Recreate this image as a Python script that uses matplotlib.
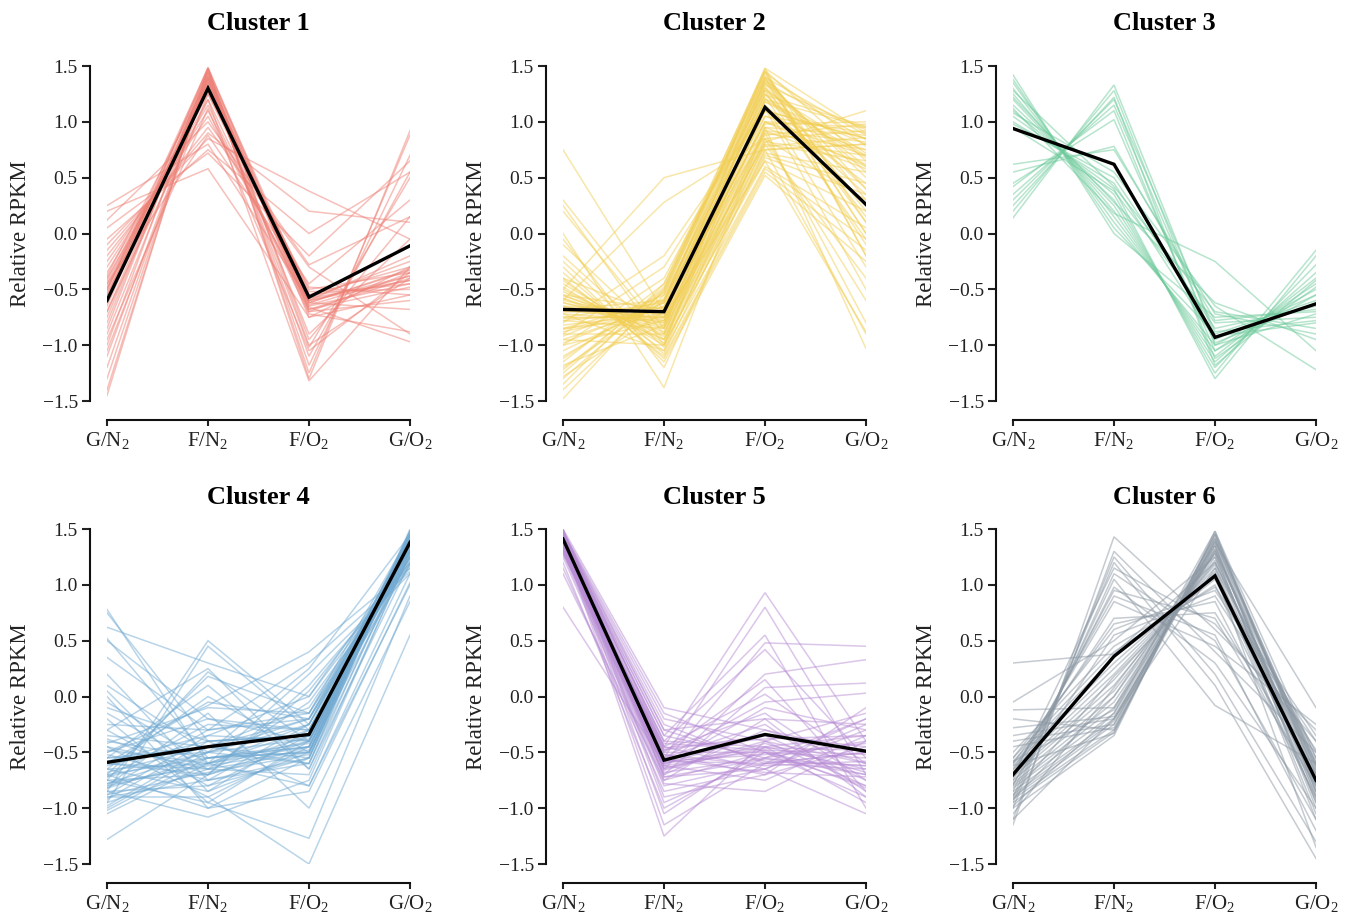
import matplotlib
matplotlib.use("Agg")
import matplotlib.pyplot as plt

plt.rcParams['font.family'] = ['Liberation Serif', 'DejaVu Serif']
plt.rcParams['mathtext.fontset'] = 'custom'
plt.rcParams['mathtext.rm'] = 'Liberation Serif'
plt.rcParams['mathtext.it'] = 'Liberation Serif:italic'

# conditions on the x axis
conditions = ['G/N$_2$', 'F/N$_2$', 'F/O$_2$', 'G/O$_2$']
yticks = [-1.5, -1.0, -0.5, 0.0, 0.5, 1.0, 1.5]

# each row: G/N2, F/N2, F/O2, G/O2
cluster1 = [
    [-1.45, 1.48, -1.30, 0.92], [-1.40, 1.45, -1.25, 0.88], [-1.30, 1.42, -1.18, 0.70],
    [-1.20, 1.40, -1.10, 0.55], [-1.10, 1.38, -1.02, 0.50], [-1.00, 1.46, -0.95, 0.15],
    [-0.90, 1.35, -0.90, -0.05], [-0.80, 1.44, -0.75, -0.30], [-0.75, 1.40, -0.70, -0.35],
    [-0.70, 1.38, -0.68, -0.40], [-0.65, 1.42, -0.65, -0.45], [-0.60, 1.36, -0.62, -0.32],
    [-0.55, 1.40, -0.60, -0.38], [-0.52, 1.44, -0.58, -0.42], [-0.50, 1.32, -0.55, -0.30],
    [-0.48, 1.30, -0.52, -0.50], [-0.45, 1.28, -0.50, -0.35], [-0.42, 1.25, -0.48, -0.55],
    [-0.40, 1.20, -0.70, -0.60], [-0.35, 1.15, -0.72, -0.88], [-0.30, 1.10, -0.66, -0.97],
    [-0.25, 1.05, -0.62, -0.68], [-0.20, 0.95, -0.30, -0.90], [-0.15, 0.90, 0.20, 0.10],
    [-0.10, 0.85, 0.38, -0.05], [-0.05, 0.75, 0.00, 0.55], [0.05, 0.72, -0.20, 0.65],
    [0.12, 1.00, -0.28, 0.15], [0.25, 0.80, -0.60, -0.42], [0.20, 0.58, -0.75, -0.55],
    [-0.85, 1.48, -1.00, -0.40], [-0.95, 1.12, -1.05, -0.35], [-1.05, 1.25, -0.58, -0.25],
    [-0.58, 1.47, -0.55, -0.45], [-0.62, 1.49, -0.62, -0.33], [-0.38, 1.38, -0.60, -0.20],
    [-0.70, 1.20, -1.32, -0.30], [-0.45, 0.88, -0.45, 0.30], [-0.50, 1.48, -0.68, -0.48],
    [-0.55, 1.35, -0.64, -0.38],
]
cluster2 = [
    [-1.48, -0.50, 1.48, -0.20], [-1.40, -0.55, 1.45, 0.10], [-1.30, -0.52, 1.42, 0.30],
    [-1.25, -0.48, 1.40, 0.00], [-1.20, -0.60, 1.38, 0.50], [-1.15, -0.45, 1.35, 0.20],
    [-1.10, -0.58, 1.30, 0.60], [-1.05, -0.62, 1.25, 0.40], [-1.00, -0.40, 1.28, -0.10],
    [-0.95, -0.65, 1.20, 0.70], [-0.92, -0.55, 1.18, 0.80], [-0.90, -0.30, 1.15, -0.30],
    [-0.88, -0.68, 1.10, 0.85], [-0.85, -0.60, 1.05, 0.90], [-0.82, -0.72, 1.00, 0.95],
    [-0.80, -0.20, 1.12, -0.50], [-0.78, -0.70, 0.98, 1.00], [-0.75, -0.75, 0.95, 0.88],
    [-0.72, -0.78, 0.92, 0.82], [-0.70, -0.66, 0.90, 0.75], [-0.68, -0.80, 0.88, 0.98],
    [-0.65, -0.82, 0.85, 0.92], [-0.62, -0.85, 0.82, 0.70], [-0.60, -0.78, 0.80, 0.65],
    [-0.58, -0.88, 0.78, 0.86], [-0.55, -0.90, 0.75, 0.80], [-0.52, -0.92, 0.72, 0.55],
    [-0.50, -0.95, 0.70, 0.45], [-0.48, -1.00, 0.68, 0.35], [-0.45, -0.98, 0.65, 0.20],
    [-0.42, -1.05, 0.60, 0.05], [-0.40, -1.10, 0.58, -0.05], [-0.35, -1.12, 0.55, -0.15],
    [-0.30, -1.15, 0.52, -0.25], [-0.25, -1.08, 0.80, -0.40], [-0.20, -1.02, 0.85, -0.60],
    [-0.10, -0.95, 0.90, -0.80], [-0.05, -1.20, 0.75, -0.90], [0.00, -1.38, 0.95, -1.03],
    [0.20, -0.90, 1.10, 0.85], [0.25, -1.00, 1.20, 0.95], [0.30, -0.85, 0.82, 1.10],
    [0.75, -0.70, 1.00, 0.60], [-0.50, 0.50, 0.75, 0.80], [-0.60, 0.28, 0.85, 0.30],
    [-0.75, -0.62, 1.45, -0.20], [-0.85, -0.75, 1.40, 0.40], [-0.65, -0.70, 1.32, 0.10],
    [-0.70, -0.72, 1.25, 0.25], [-0.55, -0.68, 1.35, 0.55], [-0.62, -0.80, 1.15, 0.35],
    [-0.78, -0.85, 1.30, 0.15], [-0.90, -0.90, 1.22, -0.05], [-1.00, -0.78, 1.10, 0.45],
    [-0.72, -1.05, 0.95, 0.62], [-0.58, -0.95, 1.05, 0.75], [-0.68, -0.60, 1.48, 0.90],
    [-1.28, -0.70, 1.00, 0.70], [-1.18, -0.82, 0.92, 0.58], [-0.95, -1.00, 1.38, 0.00],
    [-0.40, -0.75, 0.65, -0.88], [-1.35, -0.45, 1.46, 0.65], [-1.22, -0.50, 1.44, 0.78],
    [-1.12, -0.53, 1.40, 0.88], [-0.98, -0.62, 1.36, 0.84], [-0.86, -0.66, 1.33, 0.93],
    [-0.76, -0.74, 1.28, 0.72], [-0.66, -0.76, 1.24, 0.96], [-0.56, -0.84, 1.18, 0.68],
]
cluster3 = [
    [1.42, 0.00, -0.75, -0.70], [1.38, 0.05, -0.90, -0.60], [1.35, 0.10, -1.00, -0.50],
    [1.30, 0.15, -1.05, -0.45], [1.25, 0.20, -1.10, -0.40], [1.20, 0.25, -1.15, -0.35],
    [1.15, 0.30, -1.20, -0.28], [1.10, 0.35, -1.25, -0.15], [1.05, 0.40, -1.30, -0.20],
    [1.00, 0.45, -0.95, -0.55], [0.98, 0.50, -0.85, -0.65], [0.95, 0.38, -0.80, -0.75],
    [1.28, 0.42, -0.70, -0.85], [1.22, 0.28, -0.62, -0.95], [1.12, 0.18, -0.25, -1.05],
    [1.08, 0.55, -0.65, -1.22], [0.62, 0.75, -0.72, -0.90], [0.45, 1.02, -1.05, -0.55],
    [0.42, 1.10, -1.12, -0.48], [0.35, 1.15, -0.98, -0.62], [0.30, 1.20, -0.88, -0.78],
    [0.25, 1.22, -1.18, -0.42], [0.20, 1.28, -1.00, -0.72], [0.14, 1.33, -0.92, -0.80],
    [0.55, 0.78, -0.78, -0.68],
]
cluster4 = [
    [-1.28, -0.70, -0.40, 1.30], [-1.05, -0.60, -0.30, 1.45], [-1.02, -0.55, -0.45, 1.40],
    [-1.00, -0.50, -0.20, 1.35], [-0.98, -0.45, -0.10, 1.25], [-0.95, -0.65, -0.50, 1.48],
    [-0.92, -0.40, -0.35, 1.38], [-0.90, -0.75, -0.25, 1.42], [-0.88, -0.35, 0.00, 1.20],
    [-0.85, -0.80, -0.55, 1.50], [-0.82, -0.30, -0.15, 1.32], [-0.80, -0.60, -0.40, 1.36],
    [-0.78, -0.50, -0.60, 1.44], [-0.75, -0.70, 0.10, 1.15], [-0.72, -0.25, -0.30, 1.28],
    [-0.70, -0.55, -0.45, 1.40], [-0.68, -0.45, -0.20, 1.22], [-0.65, -0.85, -0.50, 1.46],
    [-0.62, -0.40, -0.35, 1.34], [-0.60, -0.65, -0.05, 1.18], [-0.58, -0.35, -0.40, 1.38],
    [-0.55, -0.50, -0.25, 1.30], [-0.52, -0.75, -0.55, 1.45], [-0.50, -0.20, -0.30, 1.26],
    [-0.48, -0.60, 0.20, 1.10], [-0.45, -0.90, -0.45, 1.42], [-0.42, -0.10, -0.15, 1.24],
    [-0.40, -0.55, -0.50, 1.40], [-0.38, -0.70, 0.05, 1.20], [-0.35, -0.45, -0.60, 1.48],
    [-0.30, -0.80, -0.35, 1.35], [-0.25, -0.30, 0.30, 1.12], [-0.20, -0.95, -0.40, 1.38],
    [-0.15, -0.65, -0.70, 1.28], [-0.05, -0.60, -0.80, 1.00], [0.00, -1.00, -0.55, 1.40],
    [-0.95, 0.45, -0.30, 1.30], [-0.85, 0.50, -0.25, 1.35], [-0.75, 0.22, -0.40, 1.25],
    [-0.70, 0.18, -0.15, 1.45], [-0.65, 0.00, -0.50, 1.40], [-0.60, -0.05, -0.20, 1.32],
    [-0.55, 0.10, -0.65, 1.20], [-0.50, -0.08, 0.40, 1.15], [-0.80, -0.15, -1.00, 0.85],
    [-0.85, -1.08, -0.75, 1.30], [-0.75, -0.95, -1.27, 0.90], [-0.90, -0.90, -1.50, 0.55],
    [-0.70, -1.00, -0.85, 1.02], [0.78, -0.60, -0.45, 1.35], [0.75, -0.40, -0.35, 1.40],
    [0.62, 0.30, 0.00, 1.30], [0.52, -0.55, -0.50, 1.25], [0.50, -0.20, -0.40, 1.38],
    [0.35, -0.30, -0.20, 1.42], [0.20, -0.75, -0.60, 1.30], [0.10, -0.50, 0.25, 1.45],
    [0.05, -0.85, -0.30, 1.18], [-0.10, -0.40, -0.80, 1.10], [-0.30, 0.25, -0.65, 1.35],
    [-0.45, -0.65, -0.35, 1.48], [-0.55, -0.45, -0.55, 1.42], [-0.60, -0.70, -0.45, 1.38],
    [-0.65, -0.60, -0.25, 1.44], [-0.72, -0.50, -0.38, 1.40], [-0.78, -0.62, -0.48, 1.36],
    [-0.82, -0.55, -0.42, 1.46], [-0.88, -0.68, -0.52, 1.42],
]
cluster5 = [
    [1.50, -0.10, -0.30, -0.60], [1.48, -0.15, -0.50, -0.70], [1.47, -0.20, -0.40, -0.80],
    [1.46, -0.25, -0.60, -0.50], [1.45, -0.30, -0.20, -0.90], [1.44, -0.35, -0.55, -0.40],
    [1.43, -0.40, -0.45, -0.65], [1.42, -0.45, -0.65, -0.30], [1.41, -0.48, -0.35, -0.75],
    [1.40, -0.50, -0.50, -0.55], [1.39, -0.52, -0.70, -0.45], [1.38, -0.55, -0.25, -0.85],
    [1.37, -0.58, -0.60, -0.20], [1.36, -0.60, -0.45, -0.95], [1.35, -0.62, -0.75, -0.35],
    [1.34, -0.65, -0.40, -0.60], [1.33, -0.68, -0.55, -0.70], [1.32, -0.70, -0.30, -0.50],
    [1.31, -0.72, -0.65, -0.25], [1.30, -0.75, -0.50, -0.80], [1.28, -0.78, -0.85, -0.40],
    [1.25, -0.80, -0.60, -0.65], [1.49, -0.45, 0.93, -0.40], [1.47, -0.55, 0.80, -0.70],
    [1.45, -0.35, 0.55, -1.00], [1.43, -0.60, 0.48, 0.45], [1.41, -0.40, 0.42, -0.55],
    [1.40, -0.65, 0.20, 0.33], [1.38, -0.50, 0.15, -0.85], [1.36, -0.70, 0.08, 0.12],
    [1.34, -0.45, 0.02, -0.60], [1.32, -0.55, -0.05, 0.03], [1.30, -0.62, -0.10, -0.30],
    [1.28, -0.48, -0.15, -0.75], [1.46, -0.90, -0.70, -0.10], [1.44, -0.95, -0.55, -0.20],
    [1.42, -1.05, -0.45, -0.35], [1.40, -1.15, -0.60, -0.50], [1.38, -1.25, -0.40, -0.15],
    [1.20, -1.00, -0.50, -0.90], [1.15, -0.85, -0.65, -1.05], [1.10, -0.75, -0.20, -0.25],
    [0.80, -0.60, -0.35, -0.45], [1.48, -0.30, -0.58, -0.62], [1.45, -0.42, -0.48, -0.52],
    [1.42, -0.58, -0.52, -0.42], [1.39, -0.66, -0.42, -0.68], [1.36, -0.52, -0.62, -0.58],
    [1.33, -0.46, -0.38, -0.35], [1.31, -0.56, -0.68, -0.72], [1.29, -0.64, -0.46, -0.48],
    [1.50, -0.72, -0.56, -0.62], [1.49, -0.62, -0.48, -0.82],
]
cluster6 = [
    [-1.15, 1.43, 0.60, -0.30], [-1.10, 1.30, 0.40, -0.50], [-1.00, 1.25, 0.20, -1.30],
    [-0.95, 1.20, 0.10, -1.45], [-0.90, 1.10, 0.50, -1.10], [-0.85, 1.05, -0.08, -0.60],
    [-0.80, 0.98, 0.30, -1.00], [-0.75, 0.95, 0.70, -0.80], [-0.70, 0.90, 0.55, -1.20],
    [-0.65, 0.70, 0.75, -0.70], [-0.60, 0.65, 0.85, -0.90], [-0.55, 0.60, 0.95, -0.40],
    [-1.00, -0.35, 1.48, -0.55], [-0.95, -0.32, 1.45, -0.70], [-0.92, -0.30, 1.42, -0.60],
    [-0.90, -0.25, 1.40, -0.85], [-0.88, -0.22, 1.38, -0.65], [-0.85, -0.20, 1.35, -0.90],
    [-0.82, -0.15, 1.32, -0.75], [-0.80, -0.10, 1.30, -1.00], [-0.78, -0.05, 1.28, -0.58],
    [-0.75, 0.00, 1.25, -0.80], [-0.72, 0.05, 1.22, -0.95], [-0.70, 0.10, 1.20, -0.68],
    [-0.68, 0.15, 1.18, -1.05], [-0.65, 0.20, 1.15, -0.50], [-0.62, 0.25, 1.12, -0.88],
    [-0.60, 0.30, 1.10, -0.62], [-0.58, 0.35, 1.05, -0.78], [-0.55, 0.40, 1.00, -0.92],
    [-0.50, 0.45, 0.98, -0.35], [-0.45, -0.28, 1.45, -0.72], [-0.40, -0.25, 1.40, -0.62],
    [-0.35, -0.20, 1.35, -0.82], [-0.28, -0.18, 1.30, -0.55], [-0.20, -0.30, 1.38, -0.10],
    [-0.12, -0.10, 1.42, -0.68], [-0.05, 0.50, 1.25, -0.85], [0.30, 0.38, 1.20, -0.60],
    [-1.10, -0.20, 1.15, -1.10], [-1.05, 0.08, 1.28, -0.95], [-0.98, -0.15, 1.48, -0.75],
    [-0.92, 0.00, 1.36, -0.85], [-0.88, 0.18, 1.10, -1.35], [-0.78, 0.55, 0.90, -0.48],
    [-0.72, 1.15, 0.65, -0.40], [-0.68, 0.85, 0.45, -0.25], [-0.62, -0.33, 1.46, -0.65],
    [-0.58, -0.12, 1.32, -0.78],
]

# black centroid line of each cluster
mean1 = [-0.60, 1.30, -0.57, -0.11]
mean2 = [-0.68, -0.70, 1.13, 0.26]
mean3 = [0.94, 0.62, -0.93, -0.63]
mean4 = [-0.59, -0.45, -0.34, 1.38]
mean5 = [1.41, -0.57, -0.34, -0.49]
mean6 = [-0.70, 0.36, 1.08, -0.75]

clusters = [cluster1, cluster2, cluster3, cluster4, cluster5, cluster6]
means = [mean1, mean2, mean3, mean4, mean5, mean6]
colors = ['#EE8076', '#F2CF55', '#6FCB9C', '#73ABD3', '#B88DD5', '#8C98A4']

W, H = 1357, 913
fig = plt.figure(figsize=(W / 100, H / 100), dpi=100)

lefts = [107, 563, 1013]
tops = [66, 529]
title_y = [1.128, 1.095]
aw, ah = 303, 335

for i in range(6):
    r, c = divmod(i, 3)
    ax = fig.add_axes([lefts[c] / W, 1 - (tops[r] + ah) / H, aw / W, ah / H])
    x = range(4)
    for row in clusters[i]:
        ax.plot(x, row, color=colors[i], lw=1.1, alpha=0.5, solid_joinstyle='miter')
    ax.plot(x, means[i], color='black', lw=2.4, solid_joinstyle='miter')

    ax.set_xlim(0, 3)
    ax.set_ylim(-1.5, 1.5)
    ax.set_xticks(x)
    ax.set_xticklabels(conditions)
    ax.set_yticks(yticks)
    ax.set_yticklabels([f'{v:.1f}'.replace('-', '\u2212') for v in yticks])

    for s in ['top', 'right']:
        ax.spines[s].set_visible(False)
    ax.spines['left'].set_position(('outward', 12))
    ax.spines['bottom'].set_position(('outward', 14))
    ax.spines['left'].set_bounds(-1.5, 1.5)
    ax.spines['bottom'].set_bounds(0, 3)
    for s in ['left', 'bottom']:
        ax.spines[s].set_linewidth(1.5)
        ax.spines[s].set_color('#111111')
    ax.tick_params(axis='both', width=1.5, colors='#222222')
    ax.tick_params(axis='x', length=4, pad=3, labelsize=15)
    ax.tick_params(axis='y', length=6, pad=3, labelsize=14)

    ax.set_ylabel('Relative RPKM', fontsize=16.5, color='#222222')
    ax.yaxis.set_label_coords(-0.252, 0.5)
    ax.text(0.5, title_y[r], f'Cluster {i + 1}', transform=ax.transAxes,
            ha='center', va='center', fontsize=19, fontweight='bold')

fig.savefig('out.png', dpi=100)
